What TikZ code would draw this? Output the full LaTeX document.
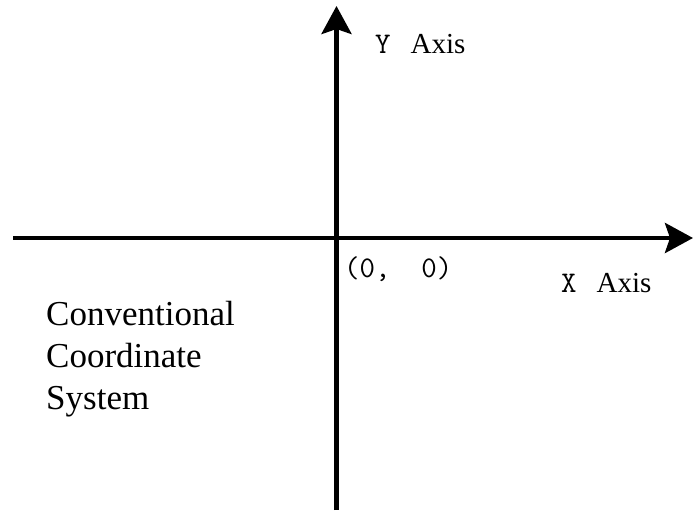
\documentclass[tikz,border=0pt]{standalone}
\usepackage{fontspec}
\setmainfont{Liberation Serif}
\usetikzlibrary{arrows.meta}

\begin{document}
\begin{tikzpicture}[x=1pt, y=1pt,
    axis/.style={line width=4.5pt, -{Stealth[length=28pt, width=30pt, inset=5pt]}},
    label/.style={anchor=base west, inner sep=0pt, font=\fontsize{29}{35}\selectfont}]
  \useasboundingbox (0,0) rectangle (693,512);

  % axes
  \coordinate (xstart) at (13,274);
  \coordinate (xend) at (693,274);
  \coordinate (ystart) at (336.5,2);
  \coordinate (yend) at (336.5,506);
  \draw[axis] (xstart) -- (xend);
  \draw[axis] (ystart) -- (yend);

  % labels
  \node[label] (ylabel) at (375,458) {{\fontsize{30}{36}\selectfont\ttfamily Y}\hspace{20pt}Axis};
  \node[label] (xlabel) at (561,220) {{\fontsize{30}{36}\selectfont\ttfamily X}\hspace{20pt}Axis};
  \node[label, font=\fontsize{30}{36}\selectfont\ttfamily] (origin) at (344,235) {(0,~~0)};
  \node[label, align=left, font=\fontsize{35}{42}\selectfont] (caption) at (46,103)
    {Conventional\\Coordinate\\System};
\end{tikzpicture}
\end{document}
